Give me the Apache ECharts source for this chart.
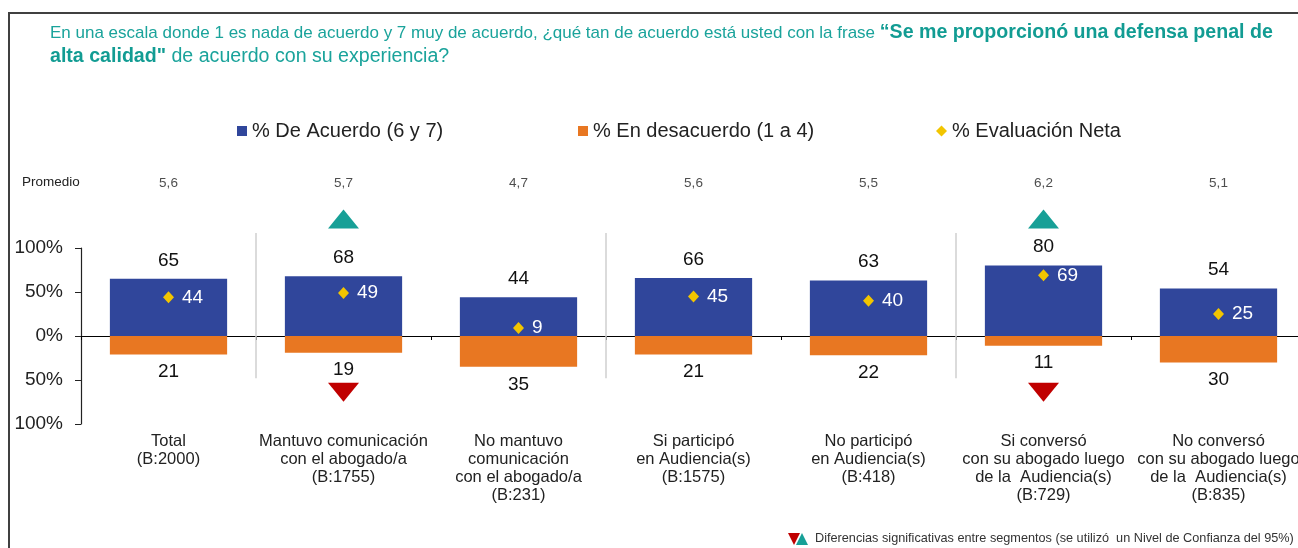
<!DOCTYPE html>
<html>
<head>
<meta charset="utf-8">
<script src="https://cdn.jsdelivr.net/npm/echarts@6/dist/echarts.min.js"></script>
<style>
  html, body { margin: 0; padding: 0; background: #fff; }
  #chart { width: 1298px; height: 548px; }
</style>
</head>
<body>
<div id="chart"></div>
<script>
// categories (segmentos) and values
const categories = [
  'Total\n(B:2000)',
  'Mantuvo comunicación\ncon el abogado/a\n(B:1755)',
  'No mantuvo\ncomunicación\ncon el abogado/a\n(B:231)',
  'Si participó\nen Audiencia(s)\n(B:1575)',
  'No participó\nen Audiencia(s)\n(B:418)',
  'Si conversó\ncon su abogado luego\nde la  Audiencia(s)\n(B:729)',
  'No conversó\ncon su abogado luego\nde la  Audiencia(s)\n(B:835)'
];
const deAcuerdo = [65, 68, 44, 66, 63, 80, 54];      // % 6 y 7
const enDesacuerdo = [21, 19, 35, 21, 22, 11, 30];   // % 1 a 4
const evalNeta = [44, 49, 9, 45, 40, 69, 25];        // % evaluación neta
const promedio = ['5,6', '5,7', '4,7', '5,6', '5,5', '6,2', '5,1'];
const sigSuperior = [false, true, false, false, false, true, false];
const sigInferior = [false, true, false, false, false, true, false];
const separadorTras = [0, 2, 4]; // vertical line after these categories

const FONT = '"Liberation Sans", Arial, sans-serif';
const TEAL = '#1aa39b';
const BLUE = '#30469b';
const ORANGE = '#e87722';
const YELLOW = '#f2c500';

const chart = echarts.init(document.getElementById('chart'));

const legendText = { fontSize: 20, color: '#222', fontFamily: FONT, lineHeight: 22 };

const option = {
  animation: false,
  textStyle: { fontFamily: FONT },
  title: {
    left: 50, top: 21, padding: 0,
    text: '{a|En una escala donde 1 es nada de acuerdo y 7 muy de acuerdo, ¿qué tan de acuerdo está usted con la frase }{b|“Se me proporcionó una defensa penal de}\n{b|alta calidad"}{c| de acuerdo con su experiencia?}',
    textStyle: {
      fontWeight: 'normal',
      rich: {
        a: { fontSize: 17, fontWeight: 'normal', color: TEAL, fontFamily: FONT, lineHeight: 24 },
        b: { fontSize: 19.6, fontWeight: 'bold', color: '#129c93', fontFamily: FONT, lineHeight: 24 },
        c: { fontSize: 19.6, fontWeight: 'normal', color: TEAL, fontFamily: FONT, lineHeight: 24 }
      }
    }
  },
  legend: [
    { data: ['% De Acuerdo (6 y 7)'], left: 237, top: 120, padding: 0, icon: 'rect', itemWidth: 10, itemHeight: 10, itemGap: 5, textStyle: legendText },
    { data: ['% En desacuerdo (1 a 4)'], left: 578, top: 120, padding: 0, icon: 'rect', itemWidth: 10, itemHeight: 10, itemGap: 5, textStyle: legendText },
    { data: ['% Evaluación Neta'], left: 936, top: 120, padding: 0, icon: 'diamond', itemWidth: 11, itemHeight: 11, itemGap: 5, textStyle: legendText }
  ],
  grid: { left: 81, top: 248, width: 1225, height: 176, containLabel: false, outerBoundsMode: 'none' },
  xAxis: {
    type: 'category',
    data: categories,
    axisLine: { onZero: true, lineStyle: { color: '#000', width: 1 } },
    axisTick: { show: true, length: 4, lineStyle: { color: '#000' } },
    axisLabel: { interval: 0, margin: 8, fontSize: 16.5, lineHeight: 18, color: '#222', fontFamily: FONT, verticalAlign: 'top' },
    splitLine: { show: false }
  },
  yAxis: {
    type: 'value', min: -100, max: 100, interval: 50,
    axisLine: { show: true, lineStyle: { color: '#222', width: 1.2 } },
    axisTick: { show: true, length: 6, lineStyle: { color: '#222' } },
    axisLabel: { fontSize: 19, color: '#222', margin: 18, fontFamily: FONT,
      formatter: v => Math.abs(v) + '%' },
    splitLine: { show: false }
  },
  graphic: [
    { type: 'rect', shape: { x: 9, y: 13, width: 1400, height: 600 }, style: { fill: 'none', stroke: '#404040', lineWidth: 2 }, silent: true },
    { type: 'text', left: 22, top: 175, style: { text: 'Promedio', fontSize: 13.5, fill: '#222', fontFamily: FONT } },
    { type: 'polygon', shape: { points: [[788, 533], [800, 533], [794, 545]] }, style: { fill: '#c00000' } },
    { type: 'polygon', shape: { points: [[796, 545], [808, 545], [802, 533]] }, style: { fill: '#17a097' } },
    { type: 'text', left: 815, top: 532, style: { text: 'Diferencias significativas entre segmentos (se utilizó  un Nivel de Confianza del 95%)', fontSize: 12.7, fill: '#333', fontFamily: FONT } }
  ],
  series: [
    {
      name: 'separadores', type: 'custom', silent: true, z: 1,
      data: separadorTras.map(i => [i]),
      renderItem: function (params, api) {
        const band = api.size([1, 0])[0];
        const x = api.coord([api.value(0), 0])[0] + band / 2;
        const top = api.coord([api.value(0), 117])[1];
        const bottom = api.coord([api.value(0), -48])[1];
        return { type: 'line', shape: { x1: x, y1: top, x2: x, y2: bottom }, style: { stroke: '#cfcfcf', lineWidth: 1.5 } };
      }
    },
    {
      name: '% De Acuerdo (6 y 7)', type: 'bar', stack: 'total', barWidth: '67%',
      itemStyle: { color: BLUE },
      label: { show: true, position: 'top', distance: 9, fontSize: 19, color: '#111', fontFamily: FONT },
      data: deAcuerdo
    },
    {
      name: '% En desacuerdo (1 a 4)', type: 'bar', stack: 'total', barWidth: '67%',
      itemStyle: { color: ORANGE },
      label: { show: true, position: 'bottom', distance: 8, fontSize: 19, color: '#111', fontFamily: FONT,
        formatter: p => Math.abs(p.value) },
      data: enDesacuerdo.map(v => -v)
    },
    {
      name: '% Evaluación Neta', type: 'scatter', symbol: 'diamond', symbolSize: [11, 12], z: 5,
      itemStyle: { color: YELLOW, opacity: 1 },
      label: { show: true, position: 'right', distance: 8, fontSize: 19, color: '#fff', fontFamily: FONT },
      data: evalNeta
    },
    {
      name: 'promedio', type: 'scatter', symbolSize: 0, clip: false, silent: true,
      label: { show: true, position: 'inside', fontSize: 13.5, color: '#222', fontFamily: FONT,
        formatter: p => promedio[p.dataIndex] },
      data: promedio.map((p, i) => [i, 174])
    },
    {
      name: 'sigSuperior', type: 'scatter', symbol: 'triangle', symbolSize: [31, 19], clip: false, silent: true,
      itemStyle: { color: '#17a097', opacity: 1 },
      data: sigSuperior.map((s, i) => s ? [i, 133] : null).filter(Boolean)
    },
    {
      name: 'sigInferior', type: 'scatter', symbol: 'triangle', symbolRotate: 180, symbolSize: [31, 19], clip: false, silent: true,
      itemStyle: { color: '#c00000', opacity: 1 },
      data: sigInferior.map((s, i) => s ? [i, -64] : null).filter(Boolean)
    }
  ]
};

chart.setOption(option);
</script>
</body>
</html>
